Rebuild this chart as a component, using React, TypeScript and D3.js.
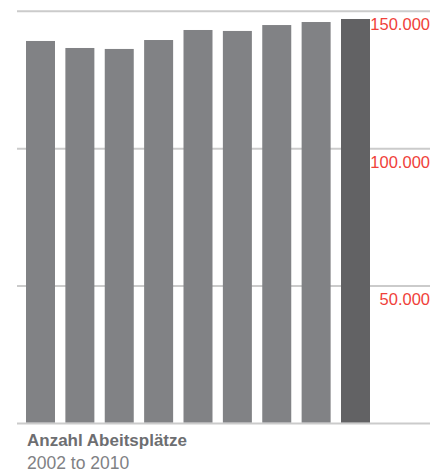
import React from "react";
import * as d3 from "d3";

const years = ["2002", "2003", "2004", "2005", "2006", "2007", "2008", "2009", "2010"];
const jobs = [139200, 136650, 136300, 139550, 143200, 142850, 145000, 146100, 147200];
const tickValues = [50000, 100000, 150000];
const title = "Anzahl Abeitsplätze";
const subtitle = "2002 to 2010";

const W = 445;
const H = 472;

export default function App() {
  const x = d3.scaleBand<string>().domain(years).range([26, 370]).paddingInner(0.2635).paddingOuter(0);
  const y = d3.scaleLinear().domain([0, 150000]).range([423.5, 11.3]);
  const fmt = (v: number) => d3.format(",")(v).replace(/,/g, ".");
  const allTicks = [0, ...tickValues];
  return (
    <svg width={W} height={H} style={{ position: "absolute", left: 0, top: 0, display: "block" }}>
      {allTicks.map((t) => (
        <line key={"g" + t} x1={17} x2={430} y1={y(t)} y2={y(t)} stroke="#cbcbcb" strokeWidth={2} />
      ))}
      {years.map((yr, i) => (
        <rect
          key={yr}
          x={x(yr)}
          y={y(jobs[i])}
          width={x.bandwidth()}
          height={y(0) - y(jobs[i]) - 1}
          fill={i === years.length - 1 ? "#626264" : "#818285"}
        />
      ))}
      {tickValues.map((t) => (
        <text
          key={"t" + t}
          x={430}
          y={y(t) + 19}
          textAnchor="end"
          fill="#f0413a"
          fontFamily="Liberation Sans, Arial, sans-serif"
          fontSize={16.5}
        >
          {fmt(t)}
        </text>
      ))}
      <text x={27} y={446} fill="#6d6e71" fontFamily="Liberation Sans, Arial, sans-serif" fontSize={17} fontWeight="bold">
        {title}
      </text>
      <text x={27} y={469} fill="#808184" fontFamily="Liberation Sans, Arial, sans-serif" fontSize={17.5}>
        {subtitle}
      </text>
    </svg>
  );
}
